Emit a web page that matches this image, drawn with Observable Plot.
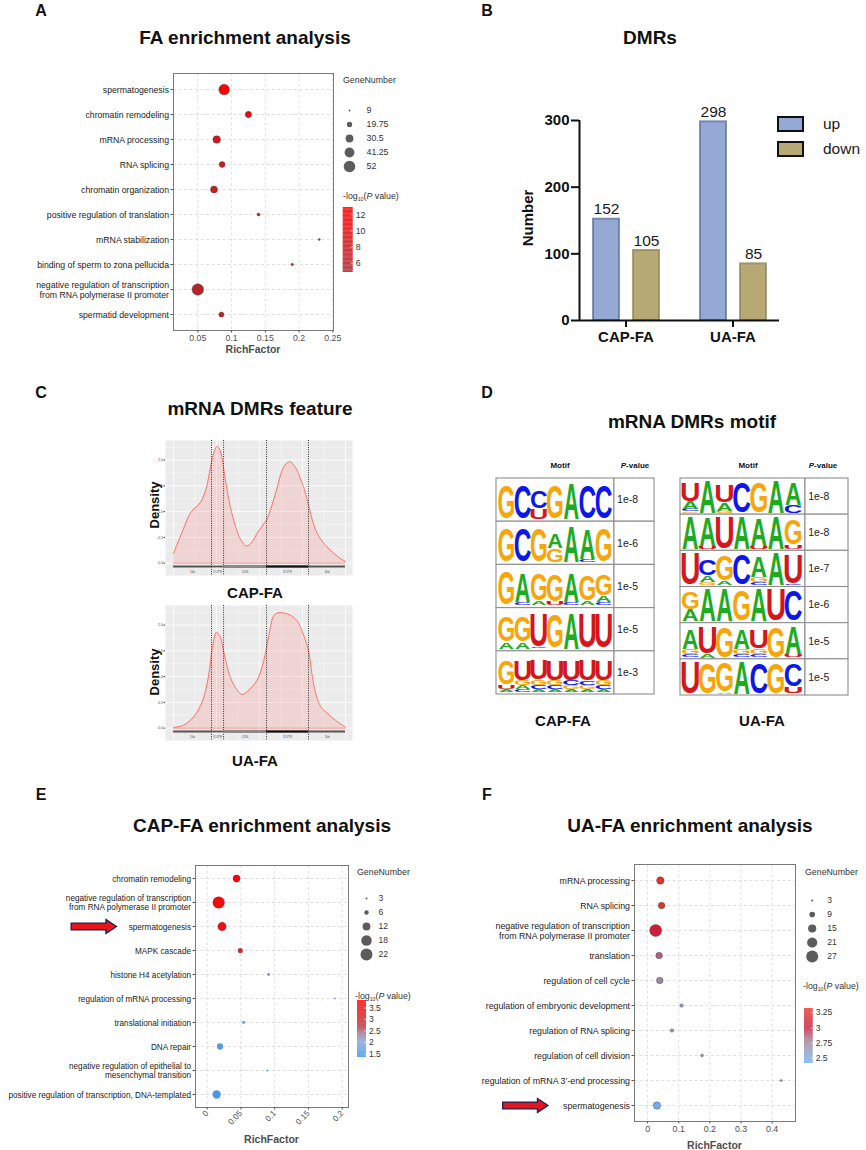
<!DOCTYPE html>
<html>
<head>
<meta charset="utf-8">
<script src="https://cdn.jsdelivr.net/npm/d3@7"></script>
<script src="https://cdn.jsdelivr.net/npm/@observablehq/plot@0.6"></script>
<style>
html,body{margin:0;padding:0;background:#fff;}
#root{position:relative;width:866px;height:1150px;overflow:hidden;font-family:'Liberation Sans',Arial,Helvetica,sans-serif;color:#111;}
#root svg{max-width:none;overflow:visible;}
sub{font-size:0.6em;vertical-align:-0.25em;}
</style>
</head>
<body><div id="root"></div>
<script>
const FONT = "'Liberation Sans', Arial, Helvetica, sans-serif";

// ---------- Panel A: FA enrichment ----------
const faTerms = ["spermatogenesis","chromatin remodeling","mRNA processing","RNA splicing","chromatin organization","positive regulation of translation","mRNA stabilization","binding of sperm to zona pellucida","negative regulation of transcription\nfrom RNA polymerase II promoter","spermatid development"];
const faRich = [0.089,0.125,0.078,0.086,0.074,0.140,0.230,0.190,0.050,0.085];
const faGenes = [46,24,30,22,27,12,9,10,52,19];
const faLogP = [12.8,9.6,8.6,8.3,7.6,7.2,6.2,6.4,5.6,7.2];
const faSizeBreaks = [9,19.75,30.5,41.25,52];
const faColorTicks = [6,8,10,12];

// ---------- Panel B: DMRs ----------
const dmrGroups = ["CAP-FA","UA-FA"];
const dmrSeries = ["up","down"];
const dmrUp = [152,298];
const dmrDown = [105,85];
const dmrTicks = [0,100,200,300];

// ---------- Panel C: mRNA DMRs feature (density along transcript) ----------
const regionNames = ["1kb","5'UTR","CDS","3'UTR","1kb"];
const regionBounds = [0,0.221,0.291,0.541,0.785,1];
const capPos = [0,0.05,0.1,0.157,0.19,0.215,0.235,0.254,0.272,0.30,0.33,0.36,0.39,0.424,0.455,0.486,0.52,0.545,0.575,0.603,0.64,0.676,0.70,0.719,0.74,0.76,0.787,0.81,0.835,0.88,0.932,0.97,1.0];
const capDensity = [0.19,0.6,0.98,1.18,1.45,1.86,2.15,2.27,2.18,1.65,1.1,0.72,0.46,0.33,0.4,0.58,0.74,0.86,1.15,1.47,1.86,1.97,1.9,1.8,1.62,1.44,1.1,0.8,0.58,0.36,0.19,0.09,0.03];
const uaPos = [0,0.06,0.118,0.167,0.205,0.225,0.25,0.273,0.293,0.331,0.37,0.40,0.438,0.486,0.525,0.554,0.583,0.612,0.68,0.719,0.758,0.787,0.816,0.855,0.893,0.95,1.0];
const uaDensity = [0.01,0.06,0.22,0.51,1.03,1.54,1.86,1.76,1.47,0.98,0.74,0.65,0.74,0.93,1.31,1.79,2.18,2.24,2.19,2.08,1.79,1.47,0.83,0.42,0.29,0.13,0.02];
const densTicks = [0,0.5,1,1.5,2];

// ---------- Panel D: motifs (letter + relative height, top to bottom) ----------
const capMotifs = [
  ["G","C","C52U30","G","A","C","C"],
  ["G","C","G","A42G40","A","A88C8","G"],
  ["G","A82C8","G80A12","G80U10","A82C8","G75A12","G62A18C8"],
  ["G75A20","G75A20","U96C3","G","A","U","U"],
  ["G72U12A8","U58G14A10C8","U56G16C10A8","U58G14C10A8","U56C14G10A8","U60C12G10A8","U58G14C10A8"]
];
const capMotifP = ["1e-8","1e-6","1e-5","1e-5","1e-3"];
const uaMotifs = [
  ["U60A22C8G4","A","U55A25G6","C","G","A","A68C24"],
  ["A","A88U8","U","A","A84U10","A","G82U12"],
  ["U","C50A20G10","G82A12","C","A64G16C8","A","U92C4"],
  ["G58A36","A","A","G","A","U","C"],
  ["A62G16C10","U84A10","G","A62G16C10","U60G16C10","G","A86U10"],
  ["U","G","G94A4","A","C","G","C72U22"]
];
const uaMotifP = ["1e-8","1e-8","1e-7","1e-6","1e-5","1e-5"];

// ---------- Panel E: CAP-FA enrichment ----------
const capTerms = ["chromatin remodeling","negative regulation of transcription\nfrom RNA polymerase II promoter","spermatogenesis","MAPK cascade","histone H4 acetylation","regulation of mRNA processing","translational initiation","DNA repair","negative regulation of epithelial to\nmesenchymal transition","positive regulation of transcription, DNA-templated"];
const capRich = [0.0435,0.017,0.022,0.049,0.091,0.189,0.054,0.019,0.089,0.014];
const capGenes = [11,22,14,7,4,3,4,9,3,13];
const capLogP = [3.7,3.5,3.3,2.7,2.2,2.0,1.8,1.6,1.7,1.5];
const capSizeBreaks = [3,6,12,18,22];
const capColorTicks = [1.5,2,2.5,3,3.5];

// ---------- Panel F: UA-FA enrichment ----------
const uaTerms = ["mRNA processing","RNA splicing","negative regulation of transcription\nfrom RNA polymerase II promoter","translation","regulation of cell cycle","regulation of embryonic development","regulation of RNA splicing","regulation of cell division","regulation of mRNA 3’-end processing","spermatogenesis"];
const uaRich = [0.041,0.045,0.026,0.037,0.039,0.109,0.078,0.175,0.429,0.030];
const uaGenes = [13,11,27,11,11,5,5,4,3,13];
const uaLogP = [3.3,3.28,3.05,2.85,2.72,2.6,2.58,2.55,2.6,2.45];
const uaSizeBreaks = [3,9,15,21,27];
const uaColorTicks = [2.5,2.75,3,3.25];

// ================= helpers =================
const root = document.getElementById("root");
function place(node, left, top) {
  const div = document.createElement("div");
  div.style.cssText = `position:absolute;left:${left}px;top:${top}px;line-height:0;`;
  div.appendChild(node);
  root.appendChild(div);
  return node;
}
function label(html, x, y, css = "", anchor = "center", rot = 0) {
  const d = document.createElement("div");
  d.innerHTML = html;
  const tx = anchor === "center" ? "-50%" : anchor === "end" ? "-100%" : "0";
  d.style.cssText = `position:absolute;left:${x}px;top:${y}px;transform:translate(${tx},-50%)${rot ? ` rotate(${rot}deg)` : ""};white-space:nowrap;line-height:1;${css}`;
  root.appendChild(d);
}
const baseStyle = {fontFamily: FONT, background: "transparent", overflow: "visible"};

const arrowSymbol = {
  draw(ctx) {
    const L = 22.6, hs = 3.4, hh = 7, hx = 12.2;
    ctx.moveTo(-L, -hs); ctx.lineTo(hx, -hs); ctx.lineTo(hx, -hh); ctx.lineTo(L, 0);
    ctx.lineTo(hx, hh); ctx.lineTo(hx, hs); ctx.lineTo(-L, hs); ctx.closePath();
  }
};

function enrich(c) {
  const data = c.terms.map((t, i) => ({term: t, rich: c.rich[i], genes: c.genes[i], p: c.logp[i]}));
  const grid = {stroke: "#d2d2d2", strokeOpacity: 1, strokeDasharray: "3,2.5", strokeWidth: 0.7};
  const marks = [
    Plot.gridX(c.xTicks, grid),
    Plot.gridY(grid),
    Plot.frame({stroke: "#7a7a7a", strokeWidth: 1}),
    Plot.axisX(c.xTicks, {tickSize: 2.5, tickPadding: 2, fontSize: c.fs, fill: "#4d4d4d", stroke: "#555", label: null, tickFormat: d => String(d), tickRotate: c.tickRotate || 0}),
    Plot.axisY({tickSize: 2.5, tickPadding: 2, fontSize: c.fs, fill: "#1a1a1a", stroke: "#555", label: null, lineHeight: 1.15}),
    Plot.dot(data, {x: "rich", y: "term", r: "genes", fill: "p", stroke: c.stroke ? "#333" : "none", strokeWidth: 0.6, strokeOpacity: 0.6})
  ];
  if (c.arrow) marks.push(Plot.dot([c.arrow.term], {y: d => d, frameAnchor: "left", dx: c.arrow.dx, symbol: arrowSymbol, fill: "#e8141b", stroke: "#1c2555", strokeWidth: 1.4}));
  return Plot.plot({
    width: c.width, height: c.height, marginLeft: c.ml, marginRight: c.mr, marginTop: c.mt, marginBottom: c.mb,
    x: {domain: c.xDomain}, y: {domain: c.terms, padding: c.pad},
    r: c.rCfg, color: c.cCfg, style: baseStyle, marks
  });
}

function sizeLegend(breaks, rCfg, w, h, cx, yRange, gap, fs) {
  return Plot.plot({
    width: w, height: h, margin: 0,
    x: {domain: [0, 1], range: [cx, cx + 50], axis: null},
    y: {type: "point", domain: breaks, range: yRange, axis: null},
    r: rCfg, style: baseStyle,
    marks: [
      Plot.dot(breaks, {x: () => 0, y: d => d, r: d => d, fill: "#5c5c5c"}),
      Plot.text(breaks, {x: () => 0, y: d => d, text: d => String(d), dx: gap, textAnchor: "start", fontSize: fs, fill: "#333"})
    ]
  });
}

function colorBar(cCfg, lo, hi, ticks, w, h, xr, yr, gap, fs) {
  const n = 80, step = (hi - lo) / n;
  const slices = d3.range(n).map(i => lo + i * step);
  return Plot.plot({
    width: w, height: h, margin: 0,
    x: {domain: [0, 1], range: xr, axis: null},
    y: {domain: [lo, hi], range: yr, axis: null},
    color: cCfg, style: baseStyle,
    marks: [
      Plot.rect(slices, {x1: () => 0, x2: () => 1, y1: d => d, y2: d => Math.min(hi, d + step * 1.05), fill: d => d + step / 2}),
      Plot.ruleY(ticks, {x1: () => 0.8, x2: () => 1, stroke: "white", strokeWidth: 0.6}),
      Plot.text(ticks, {x: () => 1, y: d => d, text: d => String(d), dx: gap, textAnchor: "start", fontSize: fs, fill: "#333"})
    ]
  });
}

// ================= Panel A =================
const faR = {type: "sqrt", domain: [9, 52], range: [1, 5.8]};
const faC = {type: "linear", domain: [4.85, 12.9], range: ["#ab2a30", "#ff0000"]};
place(enrich({terms: faTerms, rich: faRich, genes: faGenes, logp: faLogP,
  width: 340, height: 300, ml: 173, mr: 7, mt: 13, mb: 30,
  xDomain: [0.014, 0.251], xTicks: [0.05, 0.1, 0.15, 0.2, 0.25], pad: 0.55,
  rCfg: faR, cCfg: faC, fs: 8.7, stroke: true}), 0, 60);
place(sizeLegend(faSizeBreaks, faR, 80, 95, 14, [12, 83], 17, 8.8), 335, 90);
place(colorBar(faC, 4.85, 12.9, faColorTicks, 80, 80, [7.7, 17.7], [72, 7], 2.5, 8.8), 335, 200);

// ================= Panel B =================
const dmrData = dmrGroups.flatMap((g, i) => [
  {group: g, series: "up", value: dmrUp[i]},
  {group: g, series: "down", value: dmrDown[i]}
]);
const barDims = {width: 270, height: 280, marginLeft: 59, marginRight: 11, marginTop: 40, marginBottom: 40};
const pB = Plot.plot({
  ...barDims,
  fx: {domain: dmrGroups, paddingInner: 0.15, paddingOuter: 0.005},
  x: {domain: dmrSeries, paddingInner: 0.35, paddingOuter: 0.31, axis: null},
  y: {domain: [0, 300], axis: null},
  style: baseStyle,
  marks: [
    Plot.barY(dmrData.filter(d => d.series === "up"), {fx: "group", x: "series", y: "value", fill: "#95a9d5", stroke: "#5f7098", strokeWidth: 2, strokeOpacity: 0.75}),
    Plot.barY(dmrData.filter(d => d.series === "down"), {fx: "group", x: "series", y: "value", fill: "#b6a975", stroke: "#8f8456", strokeWidth: 2, strokeOpacity: 0.75}),
    Plot.text(dmrData, {fx: "group", x: "series", y: "value", text: d => String(d.value), dy: -5, lineAnchor: "bottom", fontSize: 15.5, fill: "#1a1a1a"}),
    Plot.axisFx({anchor: "bottom", tickSize: 7, tickPadding: 4, fontSize: 15, fontWeight: "bold", strokeWidth: 2, fill: "#111", stroke: "#111", label: null})
  ]
});
place(pB, 520, 80);
const pB2 = Plot.plot({
  ...barDims,
  x: {domain: [0, 1], axis: null},
  y: {domain: [0, 300], axis: null},
  style: baseStyle,
  marks: [
    Plot.ruleY([0], {stroke: "#111", strokeWidth: 2}),
    Plot.ruleX([0], {y1: 0, y2: 300, stroke: "#111", strokeWidth: 2}),
    Plot.axisY(dmrTicks, {tickSize: 8, tickPadding: 2, fontSize: 15, fontWeight: "bold", strokeWidth: 2, fill: "#111", stroke: "#111", label: null})
  ]
});
place(pB2, 520, 80);
// legend of B
const pBL = Plot.plot({
  width: 90, height: 46, margin: 0,
  x: {type: "band", domain: ["k"], range: [2, 27], padding: 0, axis: null},
  y: {type: "band", domain: dmrSeries, range: [3, 43], paddingInner: 0.45, paddingOuter: 0, axis: null},
  color: {domain: dmrSeries, range: ["#95a9d5", "#b6a975"]},
  style: baseStyle,
  marks: [
    Plot.cell(dmrSeries, {x: () => "k", y: d => d, fill: d => d, stroke: "#111", strokeWidth: 2}),
    Plot.text(dmrSeries, {x: () => "k", y: d => d, text: d => d, dx: 32, textAnchor: "start", fontSize: 15.5, fill: "#1a1a1a"})
  ]
});
place(pBL, 776, 113);

// ================= Panel C =================
function densityPlot(xs, ds) {
  const pts = xs.map((x, i) => ({x, d: ds[i]}));
  const regions = regionNames.map((n, i) => ({name: n, start: regionBounds[i], end: regionBounds[i + 1]}));
  const barY = () => -0.065;
  return Plot.plot({
    width: 215, height: 145, marginLeft: 25, marginRight: 3, marginTop: 5, marginBottom: 5,
    x: {domain: [-0.0465, 1.0407], axis: null},
    y: {domain: [-0.24, 2.38], axis: null},
    style: baseStyle,
    marks: [
      Plot.frame({fill: "#ebebeb", stroke: "none"}),
      Plot.gridY([0.25, 0.75, 1.25, 1.75, 2.25], {stroke: "white", strokeOpacity: 1, strokeWidth: 0.4}),
      Plot.gridY(densTicks, {stroke: "white", strokeOpacity: 1, strokeWidth: 0.8}),
      Plot.gridX([0.125, 0.375, 0.625, 0.875], {stroke: "white", strokeOpacity: 1, strokeWidth: 0.4}),
      Plot.gridX([0, 0.25, 0.5, 0.75, 1], {stroke: "white", strokeOpacity: 1, strokeWidth: 0.8}),
      Plot.axisY(densTicks, {tickFormat: d => d.toFixed(1), fontSize: 3.6, tickSize: 1.5, tickPadding: 1, fill: "#4d4d4d", stroke: "#333", label: null}),
      Plot.areaY(pts, {x: "x", y: "d", fill: "#f8766d", fillOpacity: 0.2, curve: "catmull-rom"}),
      Plot.lineY(pts, {x: "x", y: "d", stroke: "#f8766d", strokeWidth: 1, curve: "catmull-rom"}),
      Plot.ruleY([0], {x1: () => regionBounds[0], x2: () => regionBounds[regionBounds.length - 1], stroke: "#f8766d", strokeWidth: 0.8}),
      Plot.ruleX(regionBounds.slice(1, -1), {stroke: "#1a1a1a", strokeWidth: 0.9, strokeDasharray: "1,1.3"}),
      Plot.ruleY(regions, {x1: "start", x2: "end", y: barY, stroke: "#555", strokeWidth: 1.8}),
      Plot.ruleY(regions.filter(r => r.name === "CDS"), {x1: "start", x2: "end", y: barY, stroke: "#8a8a8a", strokeWidth: 3}),
      Plot.ruleY(regions.filter(r => r.name === "3'UTR"), {x1: "start", x2: "end", y: barY, stroke: "#111", strokeWidth: 2.2}),
      Plot.text(regions, {x: d => (d.start + d.end) / 2, y: () => -0.165, text: "name", fontSize: 3.2, fill: "#555"})
    ]
  });
}
place(densityPlot(capPos, capDensity), 140, 435);
place(densityPlot(uaPos, uaDensity), 140, 600);

// ================= Panel D =================
const GLYPH = {A: {w: 72, h: 71.6, b: 0}, C: {w: 63.5, h: 76, b: 2.3}, G: {w: 68, h: 76, b: 2.3}, U: {w: 58, h: 74, b: 2.3}};
function parsePos(s) {
  return [...s.matchAll(/([ACGU])(\d*)/g)].map(m => ({ch: m[1], h: m[2] ? +m[2] / 100 : 1}));
}
function logoPlot(motifs, pvals, c) {
  const letters = [];
  motifs.forEach((m, r) => m.forEach((pos, col) => {
    let yb = r + c.bottom;
    for (const p of parsePos(pos).reverse()) {
      const yt = yb - p.h * c.zone;
      letters.push({ch: p.ch, x: col + 0.5, yb, yt});
      yb = yt;
    }
  }));
  const cells = motifs.flatMap((m, r) => [
    {x1: c.left, x2: c.split, y1: r, y2: r + 1},
    {x1: c.split, x2: c.right, y1: r, y2: r + 1}
  ]);
  const plot = Plot.plot({
    width: c.width, height: c.height, margin: 0,
    x: {domain: [c.left, c.right], range: c.xRange, axis: null},
    y: {domain: [0, motifs.length], range: c.yRange, axis: null},
    color: {domain: ["A", "C", "G", "U"], range: ["#1eab22", "#0c17e8", "#f7a60a", "#d5161b"]},
    style: baseStyle,
    marks: [
      Plot.rect(cells, {x1: "x1", x2: "x2", y1: "y1", y2: "y2", fill: "white", stroke: "#8f8f8f", strokeWidth: 1.1}),
      Plot.text(letters, {x: "x", y: "yb", text: "ch", fill: "ch", fontSize: 100, fontWeight: "bold", fontFamily: FONT, textAnchor: "middle", lineAnchor: "bottom"}),
      Plot.text(pvals, {x: () => c.pX, y: (d, i) => i + 0.5, text: d => d, textAnchor: "start", fontSize: 10.5, fill: "#222"})
    ]
  });
  const sx = plot.scale("x"), sy = plot.scale("y");
  const colW = Math.abs(sx.apply(1) - sx.apply(0));
  const nodes = [...plot.querySelectorAll("text")].filter(el => /^[ACGU]$/.test(el.textContent));
  nodes.forEach((el, k) => {
    const d = letters[k];
    if (!d) return;
    const X = sx.apply(d.x), Y = sy.apply(d.yb);
    const g = GLYPH[d.ch];
    const hpx = sy.apply(d.yb) - sy.apply(d.yt);
    const scy = hpx / g.h, scx = colW * 0.96 / g.w;
    ["x", "y", "dx", "dy"].forEach(a => el.removeAttribute(a));
    el.setAttribute("transform", `translate(${X},${Y - g.b * scy}) scale(${scx},${scy})`);
    el.setAttribute("font-size", "100");
    el.setAttribute("text-anchor", "middle");
    const gp = el.parentNode;
    if (gp && gp.getAttribute && gp.getAttribute("transform")) gp.removeAttribute("transform");
  });
  return plot;
}
place(logoPlot(capMotifs, capMotifP, {width: 170, height: 232, left: -0.14, split: 7.14, right: 9.61, xRange: [6, 164], yRange: [8, 224], bottom: 0.947, zone: 0.817, pX: 7.3}), 490, 470);
place(logoPlot(uaMotifs, uaMotifP, {width: 180, height: 232, left: -0.1, split: 7.19, right: 9.7, xRange: [5, 173], yRange: [8, 225], bottom: 0.964, zone: 0.9, pX: 7.35}), 675, 470);

// ================= Panel E =================
const capR = {type: "sqrt", domain: [3, 22], range: [1, 6]};
const capC = {type: "linear", domain: [1.35, 2.0, 2.35, 2.7, 3.2, 3.83], range: ["#3f93e4", "#7ea6d8", "#9c7b9c", "#b8343c", "#d9191b", "#ff0000"]};
place(enrich({terms: capTerms, rich: capRich, genes: capGenes, logp: capLogP,
  width: 352, height: 300, ml: 195, mr: 4, mt: 15, mb: 43,
  xDomain: [-0.0173, 0.2093], xTicks: [0, 0.05, 0.1, 0.15, 0.2], pad: 0.52,
  rCfg: capR, cCfg: capC, fs: 8.2, tickRotate: -45, stroke: false,
  arrow: {term: "spermatogenesis", dx: -101.7}}), 0, 850);
place(sizeLegend(capSizeBreaks, capR, 70, 90, 16, [9, 82], 12, 8.5), 350, 880);
place(colorBar(capC, 1.35, 3.83, capColorTicks, 70, 70, [7, 16], [62, 5], 2.5, 8.5), 350, 995);

// ================= Panel F =================
const uaR = {type: "sqrt", domain: [3, 27], range: [1, 6]};
const uaC = {type: "linear", domain: [2.41, 2.62, 2.8, 3.0, 3.32], range: ["#6db3ee", "#8e9cc0", "#a8788f", "#c61b3c", "#e3372a"]};
place(enrich({terms: uaTerms, rich: uaRich, genes: uaGenes, logp: uaLogP,
  width: 330, height: 300, ml: 164, mr: 5, mt: 14, mb: 29,
  xDomain: [-0.042, 0.475], xTicks: [0, 0.1, 0.2, 0.3, 0.4], pad: 0.52,
  rCfg: uaR, cCfg: uaC, fs: 8.8, stroke: true,
  arrow: {term: "spermatogenesis", dx: -109.2}}), 470, 850);
place(sizeLegend(uaSizeBreaks, uaR, 66, 85, 11.7, [7, 78.3], 15, 8.5), 800, 885);
place(colorBar(uaC, 2.41, 3.32, uaColorTicks, 68, 65, [6, 14.7], [60, 5], 2.5, 8.5), 798, 1003);

// ================= text labels =================
const L = "font-weight:bold;font-size:16px;";
label("A", 41, 11, L); label("B", 487, 11, L); label("C", 41, 393, L);
label("D", 487, 393, L); label("E", 41, 795, L); label("F", 487, 795, L);
const T = "font-weight:bold;font-size:19px;";
label("FA enrichment analysis", 245, 37, T);
label("DMRs", 650, 37, T);
label("mRNA DMRs feature", 260, 408, T);
label("mRNA DMRs motif", 692, 421, T);
label("CAP-FA enrichment analysis", 262, 825, T);
label("UA-FA enrichment analysis", 690, 825, T);

const LG = "font-size:8.8px;color:#333;";
const logTitle = "-log<sub>10</sub>(<i>P</i> value)";
label("GeneNumber", 343, 80, LG, "start");
label(logTitle, 343, 197, LG, "start");
label("GeneNumber", 357, 872, LG, "start");
label(logTitle, 355, 997, LG, "start");
label("GeneNumber", 805, 872, LG, "start");
label(logTitle, 803, 987, LG, "start");

const RF = "font-weight:bold;font-size:10.5px;color:#4d4d4d;";
label("RichFactor", 253, 349, RF);
label("RichFactor", 271.5, 1139, RF);
label("RichFactor", 714.5, 1145, RF);

label("Number", 527, 218, "font-weight:bold;font-size:15px;", "center", -90);

label("Density", 154, 505, "font-weight:bold;font-size:13px;", "center", -90);
label("Density", 154, 672, "font-weight:bold;font-size:13px;", "center", -90);
const CAP = "font-weight:bold;font-size:15px;";
label("CAP-FA", 255, 592, CAP);
label("UA-FA", 255, 760, CAP);

const HD = "font-weight:bold;font-size:8px;";
label("Motif", 560, 466, HD);
label("<i>P</i>-value", 635, 466, HD);
label("Motif", 748, 466, HD);
label("<i>P</i>-value", 823, 466, HD);
label("CAP-FA", 563, 720, CAP);
label("UA-FA", 762, 720, CAP);
</script>
</body>
</html>
